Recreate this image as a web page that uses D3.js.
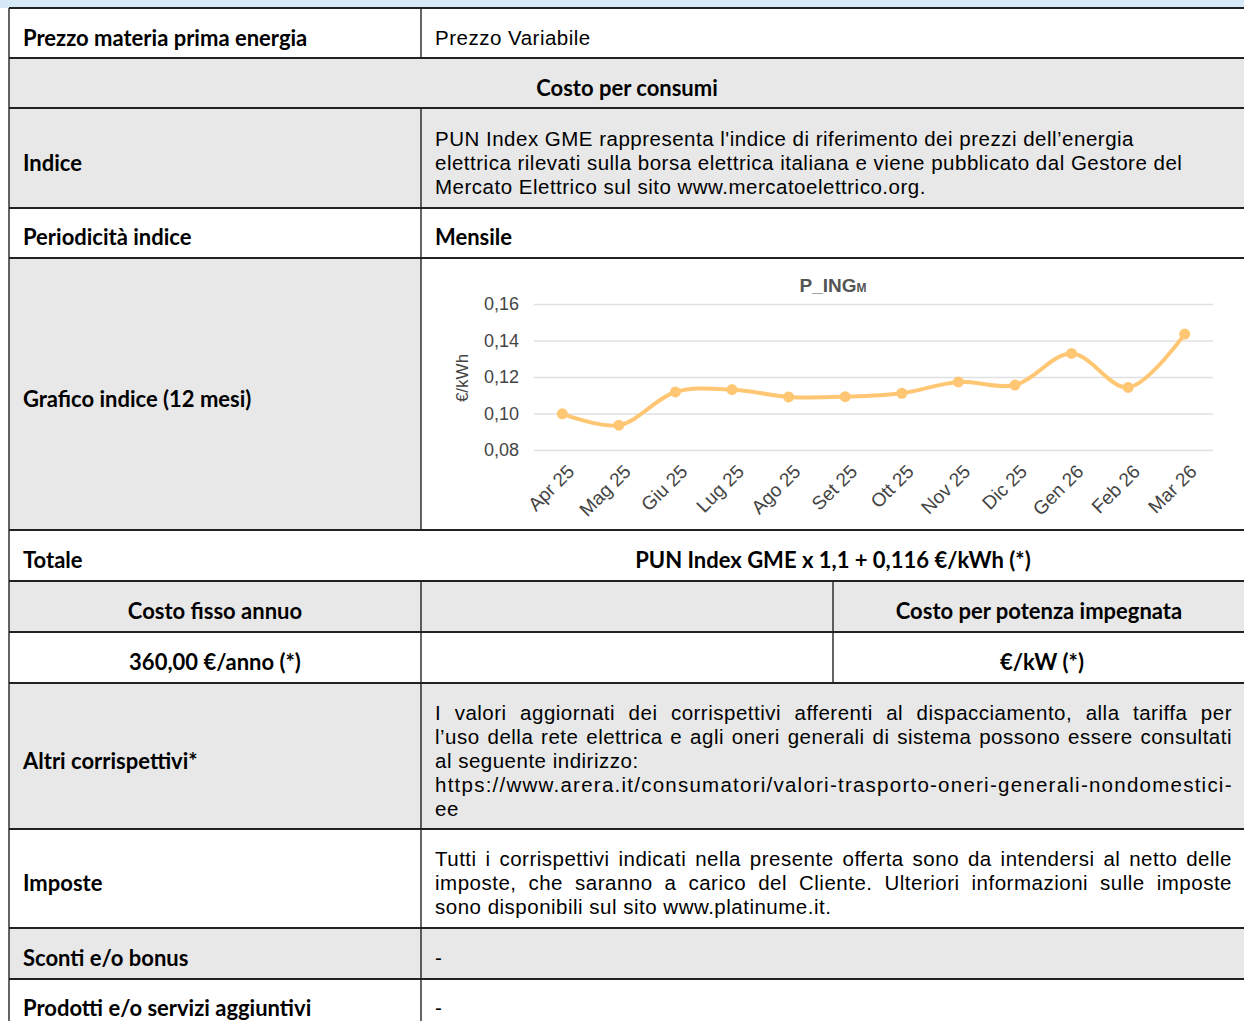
<!DOCTYPE html>
<html>
<head>
<meta charset="utf-8">
<script src="https://cdn.jsdelivr.net/npm/d3@7"></script>
<style>
  body { margin: 0; background: #fff; }
  svg { display: block; }
</style>
</head>
<body>
<div id="page"></div>
<script>
// chart data (P_ING monthly index, €/kWh)
const months = ["Apr 25", "Mag 25", "Giu 25", "Lug 25", "Ago 25", "Set 25",
                "Ott 25", "Nov 25", "Dic 25", "Gen 26", "Feb 26", "Mar 26"];
const pIng = [0.0998, 0.0936, 0.1118, 0.1131, 0.1091, 0.1092,
              0.1111, 0.1173, 0.1156, 0.1329, 0.1143, 0.1435];
const yTicks = [0.08, 0.10, 0.12, 0.14, 0.16];

// table texts
const indiceLines = [
  "PUN Index GME rappresenta l'indice di riferimento dei prezzi dell’energia",
  "elettrica rilevati sulla borsa elettrica italiana e viene pubblicato dal Gestore del",
  "Mercato Elettrico sul sito www.mercatoelettrico.org."
];
const altriLines = [
  "I valori aggiornati dei corrispettivi afferenti al dispacciamento, alla tariffa per",
  "l’uso della rete elettrica e agli oneri generali di sistema possono essere consultati",
  "al seguente indirizzo:",
  "https://www.arera.it/consumatori/valori-trasporto-oneri-generali-nondomestici-",
  "ee"
];
const altriJustify = [true, true, false, true, false];
const imposteLines = [
  "Tutti i corrispettivi indicati nella presente offerta sono da intendersi al netto delle",
  "imposte, che saranno a carico del Cliente. Ulteriori informazioni sulle imposte",
  "sono disponibili sul sito www.platinume.it."
];
const imposteJustify = [true, true, false];

const W = 1244, H = 1021;
const X0 = 9, XMID = 421, XSPLIT = 833, X1 = 1244;
const LABEL_FONT = "Lato, 'Noto Sans', sans-serif";
const BODY_FONT = "'Liberation Sans', Arial, sans-serif";
const BODY_SIZE = 20.5;
const BODY_LS = 0.5;
const CHART_FONT = "'Liberation Sans', Arial, sans-serif";
const GREY = "#e8e8e8";

const svg = d3.select("#page").append("svg")
  .attr("width", W).attr("height", H);

// top blue strip
svg.append("rect").attr("x", 0).attr("y", 0).attr("width", W).attr("height", 8)
  .attr("fill", "#d5eaf6");

// rows: [top, bottom, background]
const rows = [
  [8, 58, "#fff"], [58, 108, GREY], [108, 208, GREY], [208, 258, "#fff"],
  [258, 530, GREY], [530, 581, "#fff"], [581, 632, GREY], [632, 683, "#fff"],
  [683, 829, GREY], [829, 928, "#fff"], [928, 979, GREY], [979, 1040, "#fff"]
];

svg.append("g").selectAll("rect").data(rows).join("rect")
  .attr("x", X0).attr("y", d => d[0])
  .attr("width", X1 - X0).attr("height", d => d[1] - d[0])
  .attr("fill", d => d[2]);

// chart cell is white
svg.append("rect").attr("x", XMID).attr("y", 258).attr("width", X1 - XMID).attr("height", 272)
  .attr("fill", "#fff");

// vertical borders
const vLines = [
  [X0, 8, 1021], [XMID, 8, 58], [XMID, 108, 530], [XMID, 581, 1021], [XSPLIT, 581, 683]
];
svg.append("g").selectAll("line").data(vLines).join("line")
  .attr("x1", d => d[0]).attr("x2", d => d[0])
  .attr("y1", d => d[1]).attr("y2", d => d[2])
  .attr("stroke", "#111").attr("stroke-width", 1.3);

// horizontal borders
const hEdges = [8, 58, 108, 208, 258, 530, 581, 632, 683, 829, 928, 979];
svg.append("g").selectAll("line").data(hEdges).join("line")
  .attr("x1", X0).attr("x2", X1)
  .attr("y1", d => d).attr("y2", d => d)
  .attr("stroke", "#222").attr("stroke-width", 2);

// cell texts: [x, centerY, text, anchor]
const cells = [
  [23, 38, "Prezzo materia prima energia", "start"],
  [627, 88, "Costo per consumi", "middle"],
  [23, 163, "Indice", "start"],
  [23, 237, "Periodicità indice", "start"],
  [435, 237, "Mensile", "start"],
  [23, 399, "Grafico indice (12 mesi)", "start"],
  [23, 560, "Totale", "start"],
  [833, 560, "PUN Index GME x 1,1 + 0,116 €/kWh (*)", "middle"],
  [215, 611, "Costo fisso annuo", "middle"],
  [1039, 611, "Costo per potenza impegnata", "middle"],
  [215, 662, "360,00 €/anno (*)", "middle"],
  [1042, 662, "€/kW (*)", "middle"],
  [23, 761, "Altri corrispettivi*", "start"],
  [23, 883, "Imposte", "start"],
  [23, 958, "Sconti e/o bonus", "start"],
  [23, 1008, "Prodotti e/o servizi aggiuntivi", "start"]
];
svg.append("g").selectAll("text").data(cells).join("text")
  .attr("x", d => d[0]).attr("y", d => d[1])
  .attr("dy", "0.35em")
  .attr("text-anchor", d => d[3])
  .attr("font-family", LABEL_FONT)
  .attr("font-size", 22)
  .attr("font-weight", 700)
  .attr("fill", "#000")
  .text(d => d[2]);

// plain body texts
const plain = [[435, 38, "Prezzo Variabile"], [435, 958, "-"], [435, 1008, "-"]];
svg.append("g").selectAll("text").data(plain).join("text")
  .attr("x", d => d[0]).attr("y", d => d[1]).attr("dy", "0.35em")
  .attr("font-family", BODY_FONT).attr("font-size", BODY_SIZE)
  .attr("letter-spacing", BODY_LS)
  .attr("fill", "#000").text(d => d[2]);

// multi-line paragraphs
function paragraph(lines, justify, x, y0, lineH, right) {
  const g = svg.append("g");
  lines.forEach((t, i) => {
    const txt = g.append("text")
      .attr("x", x).attr("y", y0 + i * lineH).attr("dy", "0.35em")
      .attr("font-family", BODY_FONT).attr("font-size", BODY_SIZE)
      .attr("letter-spacing", BODY_LS)
      .attr("fill", "#000").text(t);
    if (justify && justify[i]) {
      const w = txt.node().getComputedTextLength();
      const gaps = t.split(" ").length - 1;
      if (gaps > 0) txt.attr("word-spacing", ((right - x) - w) / gaps);
      else txt.attr("textLength", right - x).attr("lengthAdjust", "spacing");
    }
  });
}
paragraph(indiceLines, null, 435, 139, 24, 1232);
paragraph(altriLines, altriJustify, 435, 713, 24, 1232);
paragraph(imposteLines, imposteJustify, 435, 859, 24, 1232);

// ---- chart ----
const chart = svg.append("g");
const locale = d3.formatLocale({decimal: ",", thousands: ".", grouping: [3], currency: ["€", ""]});
const fmt = locale.format(".2f");

const x = d3.scalePoint().domain(months).range([534, 1213]).padding(0.5);
const y = d3.scaleLinear().domain([0.08, 0.16]).range([450, 304]);

const yAxis = chart.append("g").attr("transform", "translate(534,0)")
  .call(d3.axisLeft(y).tickValues(yTicks).tickFormat(fmt)
    .tickSize(-(1213 - 534)).tickPadding(15));
yAxis.select(".domain").remove();
yAxis.selectAll(".tick line").attr("stroke", "#e0e0e0").attr("stroke-width", 1.5);
yAxis.selectAll(".tick text").attr("fill", "#444")
  .attr("font-family", CHART_FONT).attr("font-size", 18);

const xAxis = chart.append("g").attr("transform", "translate(0,458)")
  .call(d3.axisBottom(x).tickSize(0).tickPadding(0));
xAxis.select(".domain").remove();
xAxis.selectAll(".tick text")
  .attr("fill", "#444")
  .attr("font-family", CHART_FONT).attr("font-size", 19)
  .attr("text-anchor", "end")
  .attr("dy", "0.35em")
  .attr("transform", "translate(8,10) rotate(-45)");

// y axis title
chart.append("text")
  .attr("transform", "translate(462,378) rotate(-90)")
  .attr("text-anchor", "middle").attr("dy", "0.35em")
  .attr("fill", "#444")
  .attr("font-family", CHART_FONT).attr("font-size", 17)
  .text("€/kWh");

// title
const title = chart.append("text")
  .attr("x", 833).attr("y", 292)
  .attr("text-anchor", "middle")
  .attr("fill", "#555")
  .attr("font-family", CHART_FONT)
  .attr("font-weight", 700).attr("font-size", 19);
title.append("tspan").text("P_ING");
title.append("tspan").attr("font-size", 12).text("M");

// line + dots
const line = d3.line()
  .x((d, i) => x(months[i]))
  .y(d => y(d))
  .curve(d3.curveCatmullRom.alpha(0.5));
chart.append("path").datum(pIng)
  .attr("d", line)
  .attr("fill", "none")
  .attr("stroke", "#ffc773")
  .attr("stroke-width", 4)
  .attr("stroke-linecap", "round");
chart.append("g").selectAll("circle").data(pIng).join("circle")
  .attr("cx", (d, i) => x(months[i]))
  .attr("cy", d => y(d))
  .attr("r", 5.5)
  .attr("fill", "#ffc773");
</script>
</body>
</html>
